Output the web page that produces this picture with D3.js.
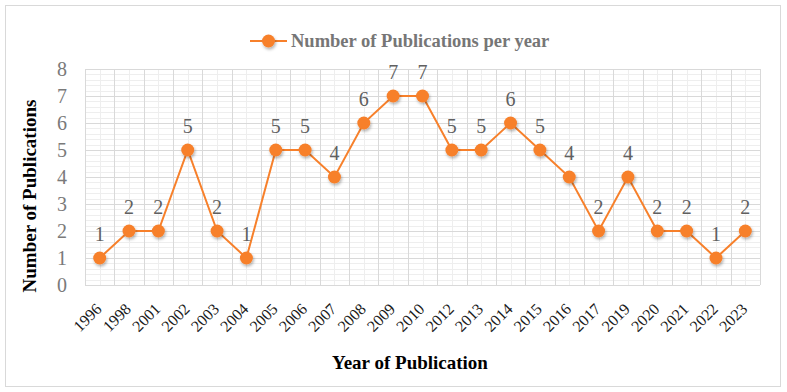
<!DOCTYPE html>
<html>
<head>
<meta charset="utf-8">
<script src="https://cdn.jsdelivr.net/npm/d3@7"></script>
<style>
  body { margin: 0; background: #fff; }
  svg { display: block; font-family: "Liberation Serif", "Times New Roman", serif; }
</style>
</head>
<body>
<div id="chart"></div>
<script>
// Chart data
const years = ['1996', '1998', '2001', '2002', '2003', '2004', '2005', '2006', '2007', '2008', '2009', '2010',
    '2012', '2013', '2014', '2015', '2016', '2017', '2019', '2020', '2021', '2022', '2023'];
const publications = [1, 2, 2, 5, 2, 1, 5, 5, 4, 6, 7, 7, 5, 5, 6, 5, 4, 2, 4, 2, 2, 1, 2];
const yTicks = [0, 1, 2, 3, 4, 5, 6, 7, 8];
const seriesName = 'Number of Publications per year';

const width = 787;
const height = 392;
const margin = { top: 69, right: 27, bottom: 107, left: 85 };
const orange = '#f7802b';

const svg = d3.select('#chart')
    .append('svg')
    .attr('width', width)
    .attr('height', height);

// Marker shadow
const defs = svg.append('defs');
const shadow = defs.append('filter')
    .attr('id', 'shadow')
    .attr('x', '-50%').attr('y', '-50%')
    .attr('width', '200%').attr('height', '200%');
shadow.append('feDropShadow')
    .attr('dx', 1).attr('dy', 2)
    .attr('stdDeviation', 1.5)
    .attr('flood-color', '#000')
    .attr('flood-opacity', 0.3);

// Outer frame
svg.append('rect')
    .attr('x', 5.5).attr('y', 5.5)
    .attr('width', width - 12).attr('height', height - 11)
    .attr('fill', '#fff')
    .attr('stroke', '#d9d9d9');

const x = d3.scaleBand()
    .domain(years)
    .range([margin.left, width - margin.right]);

const y = d3.scaleLinear()
    .domain([0, 8])
    .range([height - margin.bottom, margin.top]);

const grid = svg.append('g');

// Minor horizontal gridlines
grid.selectAll('line.minor-h')
    .data(d3.range(0, 8.001, 0.2).filter(v => Math.abs(v - Math.round(v)) > 0.01))
    .enter()
    .append('line')
    .attr('x1', margin.left).attr('x2', width - margin.right)
    .attr('y1', d => Math.round(y(d)) + 0.5)
    .attr('y2', d => Math.round(y(d)) + 0.5)
    .style('stroke', '#eeeeee');

// Minor vertical gridlines (category centres)
grid.selectAll('line.minor-v')
    .data(years)
    .enter()
    .append('line')
    .attr('x1', d => Math.round(x(d) + x.bandwidth() / 2) + 0.5)
    .attr('x2', d => Math.round(x(d) + x.bandwidth() / 2) + 0.5)
    .attr('y1', y(8)).attr('y2', y(0))
    .style('stroke', '#eeeeee');

// Major horizontal gridlines
grid.selectAll('line.major-h')
    .data(yTicks)
    .enter()
    .append('line')
    .attr('x1', margin.left).attr('x2', width - margin.right)
    .attr('y1', d => Math.round(y(d)) + 0.5)
    .attr('y2', d => Math.round(y(d)) + 0.5)
    .style('stroke', '#d9d9d9');

// Major vertical gridlines (category boundaries)
grid.selectAll('line.major-v')
    .data(years.map(d => x(d)).concat([width - margin.right]))
    .enter()
    .append('line')
    .attr('x1', d => Math.round(d) + 0.5)
    .attr('x2', d => Math.round(d) + 0.5)
    .attr('y1', y(8)).attr('y2', y(0))
    .style('stroke', '#d9d9d9');

// Y axis labels
svg.append('g')
    .selectAll('text')
    .data(yTicks)
    .enter()
    .append('text')
    .attr('x', 67)
    .attr('y', d => y(d) + 7)
    .attr('text-anchor', 'end')
    .style('font-size', '20px')
    .style('fill', '#7a7a7a')
    .text(d => d);

// X axis labels (rotated)
svg.append('g')
    .selectAll('text')
    .data(years)
    .enter()
    .append('text')
    .attr('transform', d => `translate(${x(d) + x.bandwidth() / 2 + 3},${y(0) + 25}) rotate(-45)`)
    .attr('text-anchor', 'end')
    .style('font-size', '16px')
    .style('fill', '#1a1a1a')
    .text(d => d);

// Axis titles
svg.append('text')
    .attr('x', 410)
    .attr('y', 369)
    .attr('text-anchor', 'middle')
    .style('font-size', '19px')
    .style('font-weight', 'bold')
    .style('fill', '#000')
    .text('Year of Publication');

svg.append('text')
    .attr('transform', 'translate(36,196) rotate(-90)')
    .attr('text-anchor', 'middle')
    .style('font-size', '19px')
    .style('font-weight', 'bold')
    .style('fill', '#000')
    .text('Number of Publications');

// Series line
const line = d3.line()
    .x((d, i) => x(years[i]) + x.bandwidth() / 2)
    .y(d => y(d));

svg.append('path')
    .datum(publications)
    .attr('d', line)
    .attr('fill', 'none')
    .style('stroke', orange)
    .style('stroke-width', 2);

// Markers
svg.append('g')
    .selectAll('circle')
    .data(publications)
    .enter()
    .append('circle')
    .attr('cx', (d, i) => x(years[i]) + x.bandwidth() / 2)
    .attr('cy', d => y(d))
    .attr('r', 6.5)
    .attr('filter', 'url(#shadow)')
    .style('fill', orange);

// Data labels
svg.append('g')
    .selectAll('text')
    .data(publications)
    .enter()
    .append('text')
    .attr('x', (d, i) => x(years[i]) + x.bandwidth() / 2)
    .attr('y', d => y(d) - 17)
    .attr('text-anchor', 'middle')
    .style('font-size', '20px')
    .style('fill', '#606060')
    .text(d => d);

// Legend
const legend = svg.append('g').attr('transform', 'translate(250,41)');
legend.append('line')
    .attr('x1', 0).attr('x2', 37)
    .style('stroke', orange)
    .style('stroke-width', 2);
legend.append('circle')
    .attr('cx', 18.5)
    .attr('r', 6.5)
    .attr('filter', 'url(#shadow)')
    .style('fill', orange);
legend.append('text')
    .attr('x', 41)
    .attr('y', 6)
    .style('font-size', '18.5px')
    .style('font-weight', 'bold')
    .style('fill', '#767676')
    .text(seriesName);
</script>
</body>
</html>
